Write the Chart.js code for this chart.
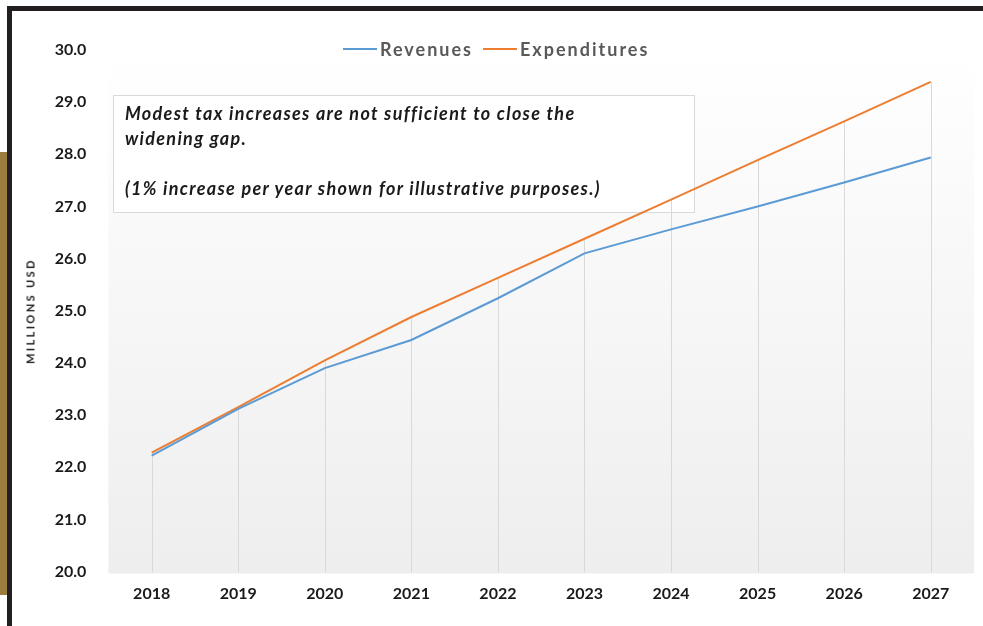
<!DOCTYPE html>
<html>
<head>
<meta charset="utf-8">
<script src="https://cdn.jsdelivr.net/npm/chart.js@4.4.1/dist/chart.umd.min.js"></script>
<style>
  html, body { margin: 0; padding: 0; background: #fff; }
  #wrap { position: relative; width: 983px; height: 626px; overflow: hidden; font-family: Lato, "Open Sans", sans-serif; }
  #chart { position: absolute; left: 0; top: 0; }
  .frameTop { position: absolute; left: 7px; top: 6px; width: 976px; height: 5px; background: #231f20; }
  .frameLeft { position: absolute; left: 7px; top: 6px; width: 5px; height: 620px; background: #231f20; }
  .goldBar { position: absolute; left: 0; top: 152px; width: 7px; height: 443px; background: #9b7d3f; }
  #legend { position: absolute; top: 38px; left: 343px; display: flex; align-items: center; font-weight: 700; font-size: 18px; color: #595959; letter-spacing: 2px; }
  #legend .sw { display: inline-block; width: 34px; height: 2px; margin-right: 3px; }
  #legend .item { display: flex; align-items: center; margin-right: 10px; }
  #note { position: absolute; left: 113px; top: 95px; width: 568px; padding: 6px 0 0 12px;
          font-weight: 700; font-style: italic; font-size: 18px; letter-spacing: 1.3px;
          line-height: 25px; color: #1a1a1a; pointer-events: none; white-space: nowrap; }
  #ytitle { position: absolute; left: 30px; top: 311px; transform: translate(-50%, -50%) rotate(-90deg);
            font-weight: 700; font-size: 11px; letter-spacing: 2.4px; color: #1a1a1a; white-space: nowrap; }
</style>
</head>
<body>
<div id="wrap">
  <canvas id="chart" width="983" height="626"></canvas>
  <div class="goldBar"></div>
  <div class="frameTop"></div>
  <div class="frameLeft"></div>
  <div id="legend"></div>
  <div id="ytitle">MILLIONS USD</div>
  <div id="note">Modest tax increases are not sufficient to close the<br>widening gap.<br><br>(1% increase per year shown for illustrative purposes.)</div>
</div>
<script>
// Datos del gráfico
const years = ['2018', '2019', '2020', '2021', '2022', '2023', '2024', '2025', '2026', '2027'];
const revenues = [22.22, 23.12, 23.90, 24.44, 25.24, 26.10, 26.56, 27.00, 27.46, 27.94];
const expenditures = [22.28, 23.15, 24.05, 24.88, 25.63, 26.38, 27.13, 27.89, 28.63, 29.39];
const yMin = 20;
const yMax = 30;

const seriesNames = ['Revenues', 'Expenditures'];
const seriesColors = ['#5b9bd5', '#ed7d31'];

// Fondo degradado del área de trazado
const plotBackground = {
    id: 'plotBackground',
    beforeDraw(chart) {
        const { ctx, chartArea } = chart;
        const g = ctx.createLinearGradient(0, chartArea.top, 0, chartArea.bottom);
        g.addColorStop(0, '#ffffff');
        g.addColorStop(1, '#eeeeee');
        ctx.save();
        ctx.fillStyle = g;
        ctx.fillRect(chartArea.left, chartArea.top - 8, chartArea.right - chartArea.left, chartArea.bottom - chartArea.top + 10);
        ctx.restore();
    }
};

// Recuadro de la nota (detrás de las líneas)
const noteBox = {
    id: 'noteBox',
    beforeDatasetsDraw(chart) {
        const { ctx } = chart;
        ctx.save();
        ctx.fillStyle = '#ffffff';
        ctx.fillRect(113, 95, 581, 117);
        ctx.strokeStyle = '#d9d9d9';
        ctx.lineWidth = 1;
        ctx.strokeRect(113.5, 95.5, 581, 117);
        ctx.restore();
    }
};

// Líneas de caída desde el valor más alto hasta el eje
const dropLines = {
    id: 'dropLines',
    beforeDatasetsDraw(chart) {
        const { ctx, chartArea, scales } = chart;
        ctx.save();
        ctx.strokeStyle = '#d9d9d9';
        ctx.lineWidth = 1;
        years.forEach((y, i) => {
            const top = Math.max(revenues[i], expenditures[i]);
            const x = Math.round(scales.x.getPixelForValue(i)) + 0.5;
            ctx.beginPath();
            ctx.moveTo(x, scales.y.getPixelForValue(top));
            ctx.lineTo(x, chartArea.bottom + 1);
            ctx.stroke();
        });
        ctx.restore();
    }
};

const tickFont = { family: 'Lato, sans-serif', size: 16, weight: '700' };

const chart = new Chart(document.getElementById('chart'), {
    type: 'line',
    data: {
        labels: years,
        datasets: [
            { label: seriesNames[0], data: revenues, borderColor: seriesColors[0], borderWidth: 2, pointRadius: 0, tension: 0 },
            { label: seriesNames[1], data: expenditures, borderColor: seriesColors[1], borderWidth: 2, pointRadius: 0, tension: 0 }
        ]
    },
    options: {
        responsive: false,
        animation: false,
        layout: { padding: { left: 0, right: 9, top: 50, bottom: 0 } },
        plugins: {
            legend: { display: false },
            tooltip: { enabled: false }
        },
        scales: {
            x: {
                offset: true,
                grid: { display: false, drawTicks: false },
                border: { display: false },
                ticks: { font: tickFont, color: '#1a1a1a', padding: 13, maxRotation: 0 },
                afterFit(scale) { scale.height = 54.5; }
            },
            y: {
                min: yMin,
                max: yMax,
                grid: { display: false, drawTicks: false },
                border: { display: false },
                ticks: {
                    stepSize: 1,
                    font: tickFont,
                    color: '#1a1a1a',
                    padding: 22,
                    callback: v => Number(v).toFixed(1)
                },
                afterFit(scale) { scale.width = 108.4; }
            }
        }
    },
    plugins: [plotBackground, noteBox, dropLines]
});

// Leyenda en HTML
const legend = document.getElementById('legend');
seriesNames.forEach((name, i) => {
    const item = document.createElement('span');
    item.className = 'item';
    item.innerHTML = `<span class="sw" style="background:${seriesColors[i]}"></span>${name}`;
    legend.appendChild(item);
});
</script>
</body>
</html>
